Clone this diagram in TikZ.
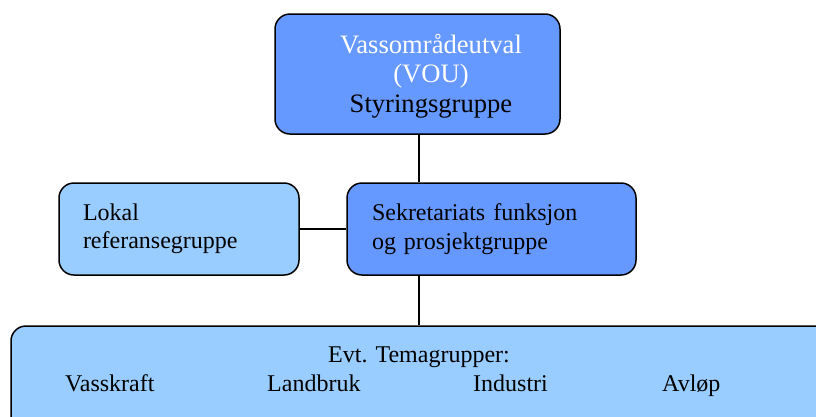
\documentclass[tikz,border=0pt]{standalone}
\usepackage{fontspec}
\setmainfont{Liberation Serif}
\definecolor{darkblue}{HTML}{6699FF}
\definecolor{lightblue}{HTML}{99CCFF}
\begin{document}
\begin{tikzpicture}[x=1pt, y=-1pt,
	box/.style={draw, line width=1.5pt, rounded corners=15pt, inner ysep=0pt},
	txt/.style={font=\fontsize{24}{28.5}\selectfont},
	link/.style={line width=1.5pt}]
	\useasboundingbox (0,0) rectangle (816,416);

	\coordinate (stem) at (419,0);

	\node [box, fill=darkblue, minimum width=285pt, minimum height=120pt] (vou) at (417.5,74) {};
	\node [font=\fontsize{26.6}{29.5}\selectfont, align=center, anchor=base, inner sep=0pt] (voutext) at (431,112)
		{\textcolor{white}{Vassområdeutval}\\\textcolor{white}{(VOU)}\\Styringsgruppe};

	\node [box, txt, fill=lightblue, text width=192pt, inner xsep=24pt, minimum height=92pt, align=left] (lokal) at (179,229)
		{Lokal\\referansegruppe};
	\node [box, txt, fill=darkblue, text width=239pt, inner xsep=25pt, minimum height=92pt, align=left] (sekr) at (491.5,229)
		{Sekretariats funksjon\\og prosjektgruppe};

	\node [box, fill=lightblue, minimum width=829pt, minimum height=114pt] (tema) at (425.5,383) {};
	\node [txt, anchor=base] (evt) at (419,362) {Evt. Temagrupper:};
	\node [txt, anchor=base west, inner xsep=0pt] (vass) at (65,391) {Vasskraft};
	\node [txt, anchor=base west, inner xsep=0pt] (land) at (267,391) {Landbruk};
	\node [txt, anchor=base west, inner xsep=0pt] (ind) at (473,391) {Industri};
	\node [txt, anchor=base west, inner xsep=0pt] (avl) at (662,391) {Avløp};

%	connectors
	\draw [link] (vou.south -| stem) -- (sekr.north -| stem);
	\draw [link] (lokal.east) -- (sekr.west);
	\draw [link] (sekr.south -| stem) -- (tema.north -| stem);
\end{tikzpicture}
\end{document}
